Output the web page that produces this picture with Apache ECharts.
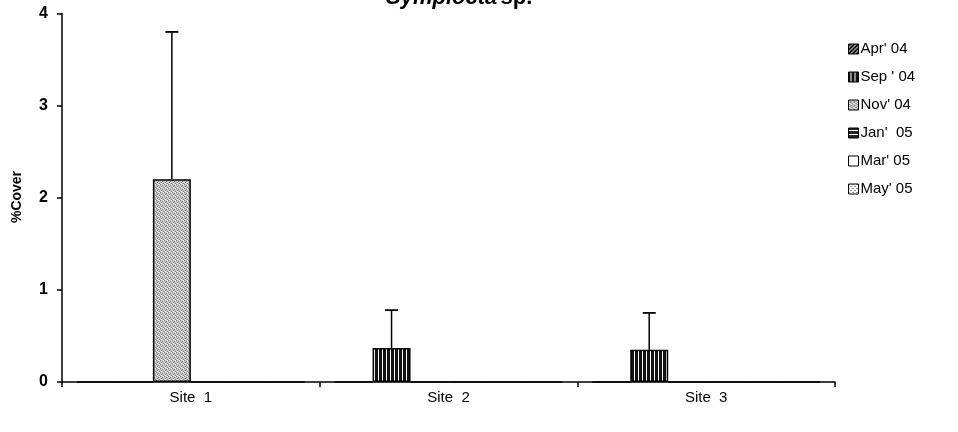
<!DOCTYPE html>
<html><head><meta charset="utf-8">
<script src="https://cdn.jsdelivr.net/npm/echarts@6/dist/echarts.min.js"></script>
<style>html,body{margin:0;padding:0;background:#fff}#c{width:958px;height:432px}</style>
</head><body><div id="c"></div>
<script>
const categories = ['Site  1', 'Site  2', 'Site  3'];
const seriesNames = ["Apr' 04", "Sep ' 04", "Nov' 04", "Jan'  05", "Mar' 05", "May' 05"];
const aprValues = [0, 0, 0];
const sepValues = [0, 0.37, 0.35];
const novValues = [2.2, 0, 0];
const janValues = [0, 0, 0];
const marValues = [0, 0, 0];
const mayValues = [0, 0, 0];
const sepErrors = [0, 0.41, 0.40];
const novErrors = [1.6, 0, 0];
const yTicks = [0, 1, 2, 3, 4];

const allValues = [aprValues, sepValues, novValues, janValues, marValues, mayValues];
const allErrors = [null, sepErrors, novErrors, null, null, null];

function pat(w, h, draw) {
  const c = document.createElement('canvas'); c.width = w; c.height = h;
  const g = c.getContext('2d'); draw(g); return {image: c, repeat: 'repeat'};
}
const patterns = [
  pat(4, 4, g => { g.fillStyle = '#111'; g.fillRect(0,0,4,4); g.fillStyle = '#fff'; for (let i=0;i<4;i++) g.fillRect(i,3-i,1,1); }),
  pat(4, 4, g => { g.fillStyle = '#111'; g.fillRect(0,0,4,4); g.fillStyle = '#fff'; g.fillRect(2,0,1,4); }),
  pat(4, 4, g => { g.fillStyle = '#c8c8c8'; g.fillRect(0,0,4,4); g.fillStyle = '#777'; g.fillRect(0,0,1,1); g.fillRect(2,1,1,1); g.fillRect(1,2,1,1); g.fillRect(3,3,1,1); g.fillStyle = '#fff'; g.fillRect(3,0,1,1); g.fillRect(1,3,1,1); }),
  pat(4, 4, g => { g.fillStyle = '#222'; g.fillRect(0,0,4,4); g.fillStyle = '#fff'; g.fillRect(0,2,4,1); }),
  pat(4, 4, g => { g.fillStyle = '#fff'; g.fillRect(0,0,4,4); }),
  pat(4, 4, g => { g.fillStyle = '#fff'; g.fillRect(0,0,4,4); g.fillStyle = '#222'; g.fillRect(0,0,1,1); g.fillRect(2,2,1,1); })
];

const GAP = 0.116;
const N = seriesNames.length;

const series = seriesNames.map((name, k) => ({
  name: name, type: 'bar', data: allValues[k],
  barGap: '0%', barCategoryGap: (GAP*100) + '%',
  itemStyle: {color: patterns[k], borderColor: '#000', borderWidth: 1.5},
  emphasis: {disabled: true}
}));

const errData = [];
allErrors.forEach((errs, k) => {
  if (!errs) return;
  errs.forEach((e, i) => { if (e > 0) errData.push([i, allValues[k][i], e, k]); });
});

series.push({
  type: 'custom', data: errData, encode: {x: 0, y: 1}, z: 5,
  renderItem: function (params, api) {
    const i = api.value(0), v = api.value(1), e = api.value(2), k = api.value(3);
    const band = api.size([1, 0])[0];
    const bw = band * (1 - GAP) / N;
    const off = -band * (1 - GAP) / 2 + bw * (k + 0.5);
    const p0 = api.coord([i, v]);
    const p1 = api.coord([i, v + e]);
    const x = p0[0] + off;
    return {type: 'group', children: [
      {type: 'line', shape: {x1: x, y1: p0[1], x2: x, y2: p1[1]}, style: {stroke: '#000', lineWidth: 1.5}},
      {type: 'line', shape: {x1: x - 6.5, y1: p1[1], x2: x + 6.5, y2: p1[1]}, style: {stroke: '#000', lineWidth: 1.8}}
    ]};
  }
});

const chart = echarts.init(document.getElementById('c'));
chart.setOption({
  animation: false,
  backgroundColor: '#fff',
  grid: {left: 62, right: 123, top: 13.5, bottom: 50, containLabel: false, outerBoundsMode: 'none'},
  graphic: [{
    type: 'text', left: 386, top: -13,
    style: {
      text: '{a|Symplocta} {b|sp.}',
      rich: {
        a: {fontFamily: 'Liberation Sans', fontStyle: 'italic', fontWeight: 'bold', fontSize: 22, fill: '#000'},
        b: {fontFamily: 'Liberation Sans', fontWeight: 'bold', fontSize: 22, fill: '#000'}
      }
    }
  }, {
    type: 'text', x: 17, y: 197, rotation: Math.PI / 2,
    style: {text: '%Cover', fontFamily: 'Liberation Sans', fontWeight: 'bold', fontSize: 14, fill: '#000', align: 'center', verticalAlign: 'middle'}
  }],
  legend: {
    data: seriesNames, orient: 'vertical', left: 843, top: 36,
    icon: 'rect', itemWidth: 10, itemHeight: 10, itemGap: 12,
    selectedMode: false,
    textStyle: {fontFamily: 'Liberation Sans', fontSize: 15, color: '#000', padding: [0, 0, 0, -3], lineHeight: 16},
    itemStyle: {borderColor: '#000', borderWidth: 1}
  },
  xAxis: {
    type: 'category', data: categories,
    axisLine: {lineStyle: {color: '#000', width: 1.5}},
    axisTick: {show: true, alignWithLabel: false, length: 5, lineStyle: {color: '#000', width: 1.5}},
    axisLabel: {fontFamily: 'Liberation Sans', fontSize: 15, color: '#000', margin: 8}
  },
  yAxis: {
    type: 'value', min: 0, max: 4, interval: 1,
    axisLine: {show: true, lineStyle: {color: '#000', width: 1.5}},
    axisTick: {show: true, length: 5, lineStyle: {color: '#000', width: 1.5}},
    splitLine: {show: false},
    axisLabel: {fontFamily: 'Liberation Sans', fontWeight: 'bold', fontSize: 16, color: '#000', margin: 14,
      formatter: v => yTicks.includes(v) ? String(v) : ''}
  },
  series: series
});
</script></body></html>
